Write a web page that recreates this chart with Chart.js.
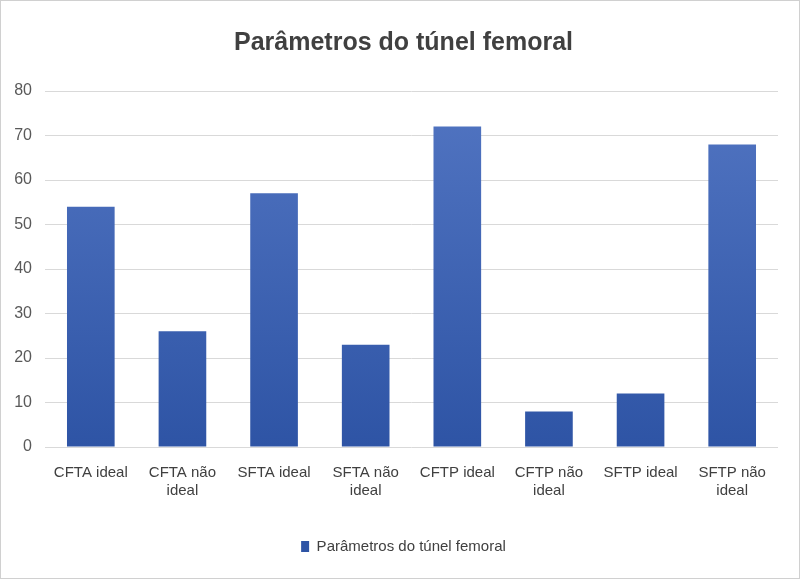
<!DOCTYPE html>
<html>
<head>
<meta charset="utf-8">
<script src="https://cdn.jsdelivr.net/npm/chart.js@4.4.1/dist/chart.umd.min.js"></script>
<style>
  html, body { margin: 0; padding: 0; background: #fff; }
  #wrap { width: 800px; height: 579px; position: relative; }
</style>
</head>
<body>
<div id="wrap"><canvas id="chart"></canvas></div>
<script>
// chart data
const categories = [
    ['CFTA ideal'], ['CFTA não', 'ideal'],
    ['SFTA ideal'], ['SFTA não', 'ideal'],
    ['CFTP ideal'], ['CFTP não', 'ideal'],
    ['SFTP ideal'], ['SFTP não', 'ideal']
];
const values = [54, 26, 57, 23, 72, 8, 12, 68];
const seriesName = 'Parâmetros do túnel femoral';
const chartTitle = 'Parâmetros do túnel femoral';

// white background + thin frame around the whole picture
const framePlugin = {
    id: 'frame',
    beforeDraw(chart) {
        const ctx = chart.ctx;
        ctx.save();
        ctx.fillStyle = '#ffffff';
        ctx.fillRect(0, 0, chart.width, chart.height);
        ctx.strokeStyle = '#d0d0d0';
        ctx.lineWidth = 1;
        ctx.strokeRect(0.5, 0.5, chart.width - 1, chart.height - 1);
        ctx.restore();
    }
};

function barFill(context) {
    const chart = context.chart;
    const area = chart.chartArea;
    if (!area) return '#3d62b3';
    const g = chart.ctx.createLinearGradient(0, area.top, 0, area.bottom);
    g.addColorStop(0, '#5275c2');
    g.addColorStop(1, '#2e54a5');
    return g;
}

const ctx = document.getElementById('chart').getContext('2d');
new Chart(ctx, {
    type: 'bar',
    data: {
        labels: categories,
        datasets: [{
            label: seriesName,
            data: values,
            backgroundColor: barFill,
            borderWidth: 0,
            barPercentage: 0.52,
            categoryPercentage: 1.0
        }]
    },
    options: {
        animation: false,
        responsive: true,
        maintainAspectRatio: false,
        layout: {
            padding: { left: 12, right: 5, top: 14, bottom: 15 }
        },
        plugins: {
            title: {
                display: true,
                text: chartTitle,
                color: '#404040',
                font: { family: 'Liberation Sans', size: 25, weight: 'bold' },
                padding: { top: 14, bottom: 33 }
            },
            legend: {
                position: 'bottom',
                labels: {
                    color: '#404040',
                    font: { family: 'Liberation Sans', size: 15 },
                    boxWidth: 8,
                    boxHeight: 11,
                    padding: 10
                }
            },
            tooltip: { enabled: false }
        },
        scales: {
            y: {
                min: 0,
                max: 80,
                ticks: {
                    stepSize: 10,
                    color: '#595959',
                    font: { family: 'Liberation Sans', size: 16 },
                    padding: 13
                },
                grid: {
                    color: '#d9d9d9',
                    drawTicks: false
                },
                border: { display: false },
                afterFit(scale) {
                    scale.width = 33;
                }
            },
            // empty right axis, only keeps the plot clear of the right edge
            yRight: {
                position: 'right',
                display: true,
                grid: { display: false, drawTicks: false },
                ticks: { display: false },
                border: { display: false },
                afterFit(scale) {
                    scale.width = 17;
                }
            },
            x: {
                ticks: {
                    color: '#404040',
                    font: { family: 'Liberation Sans', size: 15 },
                    maxRotation: 0,
                    autoSkip: false,
                    padding: 17
                },
                grid: { display: false, drawTicks: false },
                border: { display: false },
                afterFit(scale) {
                    scale.height += 12;
                }
            }
        }
    },
    plugins: [framePlugin]
});
</script>
</body>
</html>
